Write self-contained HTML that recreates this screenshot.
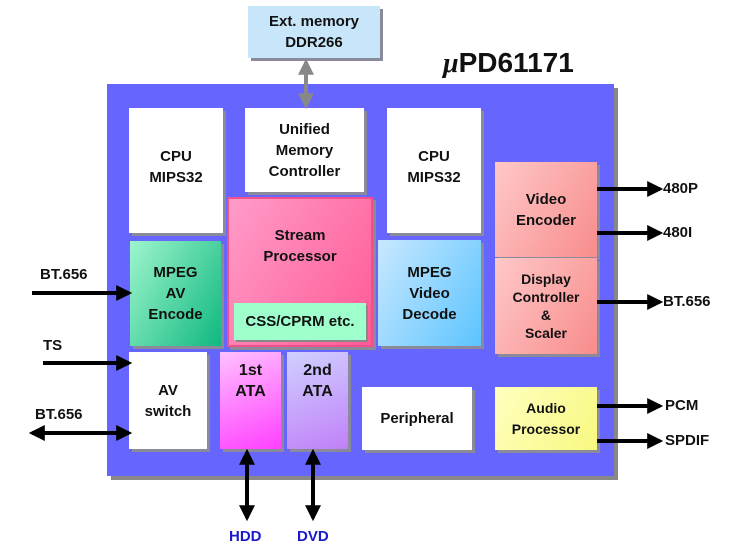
<!DOCTYPE html>
<html><head><meta charset="utf-8"><style>
body{margin:0;width:734px;height:560px;background:#fff;position:relative;overflow:hidden;font-family:"Liberation Sans",sans-serif;font-weight:bold;color:#111}
.b{position:absolute;display:flex;align-items:center;justify-content:center;text-align:center;font-size:15px;line-height:21px;box-shadow:3px 3px 0 #8a8a9a;box-sizing:border-box}
.t{position:absolute;font-size:15px}
svg{position:absolute;left:0;top:0}
</style></head><body>
<div class="b" style="left:107px;top:84px;width:507px;height:392px;background:#6666ff;box-shadow:4px 4px 0 #888"></div>
<div class="b" style="left:248px;top:6px;width:132px;height:52px;background:#c8e6fa;line-height:21px">Ext. memory<br>DDR266</div>
<div class="t" style="left:443px;top:47px;font-size:28px"><i style="font-family:'Liberation Serif',serif">μ</i>PD61171</div>
<div class="b" style="left:129px;top:108px;width:94px;height:125px;background:#fff;padding-bottom:8px">CPU<br>MIPS32</div>
<div class="b" style="left:245px;top:108px;width:119px;height:84px;background:#fff">Unified<br>Memory<br>Controller</div>
<div class="b" style="left:387px;top:108px;width:94px;height:125px;background:#fff;padding-bottom:8px">CPU<br>MIPS32</div>
<div class="b" style="left:227px;top:197px;width:146px;height:150px;background:linear-gradient(120deg,#ff9cc8,#ff5a96);border:2px solid #f0508a;align-items:flex-start;padding-top:26px">Stream<br>Processor</div>
<div class="b" style="left:234px;top:303px;width:132px;height:37px;background:#9effcc;box-shadow:2px 2px 0 #888">CSS/CPRM etc.</div>
<div class="b" style="left:130px;top:241px;width:91px;height:105px;background:linear-gradient(120deg,#9ef5cc,#10b880)">MPEG<br>AV<br>Encode</div>
<div class="b" style="left:378px;top:240px;width:103px;height:106px;background:linear-gradient(120deg,#c8e8ff,#5cc4ff)">MPEG<br>Video<br>Decode</div>
<div class="b" style="left:495px;top:162px;width:102px;height:95px;background:linear-gradient(120deg,#ffc8c8,#f88c8c)">Video<br>Encoder</div>
<div class="b" style="left:495px;top:258px;width:102px;height:96px;background:linear-gradient(120deg,#ffc8c8,#f88c8c);font-size:14px;line-height:18px">Display<br>Controller<br>&amp;<br>Scaler</div>
<div class="b" style="left:362px;top:387px;width:110px;height:63px;background:#fff">Peripheral</div>
<div class="b" style="left:495px;top:387px;width:102px;height:63px;background:linear-gradient(120deg,#ffffc0,#f8f880);font-size:14px">Audio<br>Processor</div>
<div class="b" style="left:129px;top:352px;width:78px;height:97px;background:#fff">AV<br>switch</div>
<div class="b" style="left:220px;top:352px;width:61px;height:97px;background:linear-gradient(160deg,#ffc0ff,#ff40ff);align-items:flex-start;padding-top:8px;font-size:16px">1st<br>ATA</div>
<div class="b" style="left:287px;top:352px;width:61px;height:97px;background:linear-gradient(160deg,#d0d0ff,#c080f8);align-items:flex-start;padding-top:8px;font-size:16px">2nd<br>ATA</div>
<svg width="734" height="560">
<defs>
<marker id="a" markerWidth="4" markerHeight="4" refX="3.2" refY="2" orient="auto"><path d="M0,0L4,2L0,4z" fill="#000"/></marker>
<marker id="s" markerWidth="4" markerHeight="4" refX="0.8" refY="2" orient="auto"><path d="M4,0L0,2L4,4z" fill="#000"/></marker>
<marker id="g" markerWidth="4" markerHeight="4" refX="3.2" refY="2" orient="auto"><path d="M0,0L4,2L0,4z" fill="#888"/></marker>
<marker id="gs" markerWidth="4" markerHeight="4" refX="0.8" refY="2" orient="auto"><path d="M4,0L0,2L4,4z" fill="#888"/></marker>
</defs>
<g stroke="#000" stroke-width="4">
<line x1="597" y1="189" x2="660" y2="189" marker-end="url(#a)"/>
<line x1="597" y1="233" x2="660" y2="233" marker-end="url(#a)"/>
<line x1="597" y1="302" x2="660" y2="302" marker-end="url(#a)"/>
<line x1="597" y1="406" x2="660" y2="406" marker-end="url(#a)"/>
<line x1="597" y1="441" x2="660" y2="441" marker-end="url(#a)"/>
<line x1="32" y1="293" x2="129" y2="293" marker-end="url(#a)"/>
<line x1="43" y1="363" x2="129" y2="363" marker-end="url(#a)"/>
<line x1="32" y1="433" x2="129" y2="433" marker-start="url(#s)" marker-end="url(#a)"/>
<line x1="247" y1="452" x2="247" y2="518" marker-start="url(#s)" marker-end="url(#a)"/>
<line x1="313" y1="452" x2="313" y2="518" marker-start="url(#s)" marker-end="url(#a)"/>
</g>
<line x1="306" y1="62" x2="306" y2="106" stroke="#888" stroke-width="4" marker-start="url(#gs)" marker-end="url(#g)"/>
</svg>
<div class="t" style="left:663px;top:180px">480P</div>
<div class="t" style="left:663px;top:224px">480I</div>
<div class="t" style="left:663px;top:293px">BT.656</div>
<div class="t" style="left:665px;top:397px">PCM</div>
<div class="t" style="left:665px;top:432px">SPDIF</div>
<div class="t" style="left:40px;top:266px">BT.656</div>
<div class="t" style="left:43px;top:337px">TS</div>
<div class="t" style="left:35px;top:406px">BT.656</div>
<div class="t" style="left:229px;top:528px;color:#1a1acc">HDD</div>
<div class="t" style="left:297px;top:528px;color:#1a1acc">DVD</div>
</body></html>
